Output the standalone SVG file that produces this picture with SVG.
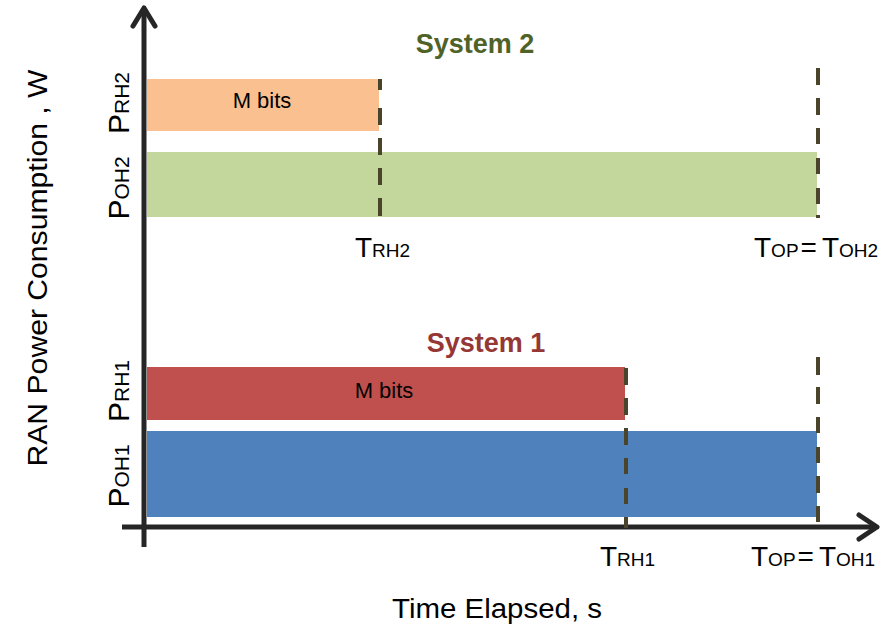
<svg xmlns="http://www.w3.org/2000/svg" width="894" height="628" viewBox="0 0 894 628">
  <style>
    text { font-family: "Liberation Sans", Arial, sans-serif; fill: #000; }
    .axis { stroke: #262626; stroke-width: 5; fill: none; }
    .head { stroke: #262626; stroke-width: 5; fill: none; stroke-linecap: round; stroke-linejoin: round; }
    .dash { stroke: #4a452a; stroke-width: 4; fill: none; }
    .title { font-weight: bold; font-size: 27px; }
    .big { font-size: 28px; }
    .sub { font-size: 19px; }
    .pbig { font-size: 30px; }
    .psub { font-size: 21px; }
    .inbar { font-size: 22px; }
    .axlabel { font-size: 27px; }
  </style>

  <!-- power bars -->
  <g id="system2-rh">
    <rect x="147" y="79" width="232" height="52" fill="#FAC090"/>
    <text class="inbar" x="262" y="108" text-anchor="middle">M bits</text>
  </g>
  <g id="system2-oh">
    <rect x="147" y="152" width="670" height="65" fill="#C3D69B"/>
  </g>
  <g id="system1-rh">
    <rect x="147" y="367" width="478" height="53" fill="#C0504D"/>
    <text class="inbar" x="384" y="398" text-anchor="middle">M bits</text>
  </g>
  <g id="system1-oh">
    <rect x="147" y="431" width="670" height="86" fill="#4F81BD"/>
  </g>

  <!-- connectors: axes and time markers -->
  <g id="connectors">
    <path class="axis" d="M144 8V547"/>
    <path class="head" d="M133 26L144 8L155 26"/>
    <path class="axis" d="M122 527H877"/>
    <path class="head" d="M859 515L877 527L859 539"/>
    <path class="dash" d="M380 79V90M380 108V125M380 138V155M380 168V185M380 198V216"/>
    <path class="dash" d="M818 68V85M818 98V115M818 128V144M818 158V174M818 188V204M818 215V218"/>
    <path class="dash" d="M626 368V385M626 398V415M626 428V445M626 458V474M626 488V504M626 517V528"/>
    <path class="dash" d="M818 357V375M818 387V404M818 417V433M818 447V463M818 476V493M818 506V522"/>
  </g>

  <!-- titles -->
  <g id="title-system2">
    <text class="title" x="475" y="53" text-anchor="middle" style="fill:#4F6228">System 2</text>
  </g>
  <g id="title-system1">
    <text class="title" x="486" y="352" text-anchor="middle" style="fill:#953735">System 1</text>
  </g>

  <!-- time labels -->
  <g id="label-trh2">
    <text x="355" y="257"><tspan class="big">T</tspan><tspan class="sub">RH2</tspan></text>
  </g>
  <g id="label-top2">
    <text x="754" y="257"><tspan class="big">T</tspan><tspan class="sub">OP</tspan><tspan class="big" dx="2">=</tspan><tspan class="big" dx="5">T</tspan><tspan class="sub">OH2</tspan></text>
  </g>
  <g id="label-trh1">
    <text x="600" y="566"><tspan class="big">T</tspan><tspan class="sub">RH1</tspan></text>
  </g>
  <g id="label-top1">
    <text x="751" y="566"><tspan class="big">T</tspan><tspan class="sub">OP</tspan><tspan class="big" dx="2">=</tspan><tspan class="big" dx="5">T</tspan><tspan class="sub">OH1</tspan></text>
  </g>

  <!-- power labels (rotated) -->
  <g id="label-prh2">
    <text transform="translate(129 103) rotate(-90)" text-anchor="middle"><tspan class="pbig">P</tspan><tspan class="psub">RH2</tspan></text>
  </g>
  <g id="label-poh2">
    <text transform="translate(129 188) rotate(-90)" text-anchor="middle"><tspan class="pbig">P</tspan><tspan class="psub">OH2</tspan></text>
  </g>
  <g id="label-prh1">
    <text transform="translate(129 391) rotate(-90)" text-anchor="middle"><tspan class="pbig">P</tspan><tspan class="psub">RH1</tspan></text>
  </g>
  <g id="label-poh1">
    <text transform="translate(129 476) rotate(-90)" text-anchor="middle"><tspan class="pbig">P</tspan><tspan class="psub">OH1</tspan></text>
  </g>

  <!-- axis titles -->
  <g id="axis-y-title">
    <text class="axlabel" transform="translate(47 268) rotate(-90)" text-anchor="middle" textLength="397" lengthAdjust="spacingAndGlyphs">RAN Power Consumption , W</text>
  </g>
  <g id="axis-x-title">
    <text class="axlabel" x="392" y="618" textLength="210" lengthAdjust="spacingAndGlyphs">Time Elapsed, s</text>
  </g>
</svg>
